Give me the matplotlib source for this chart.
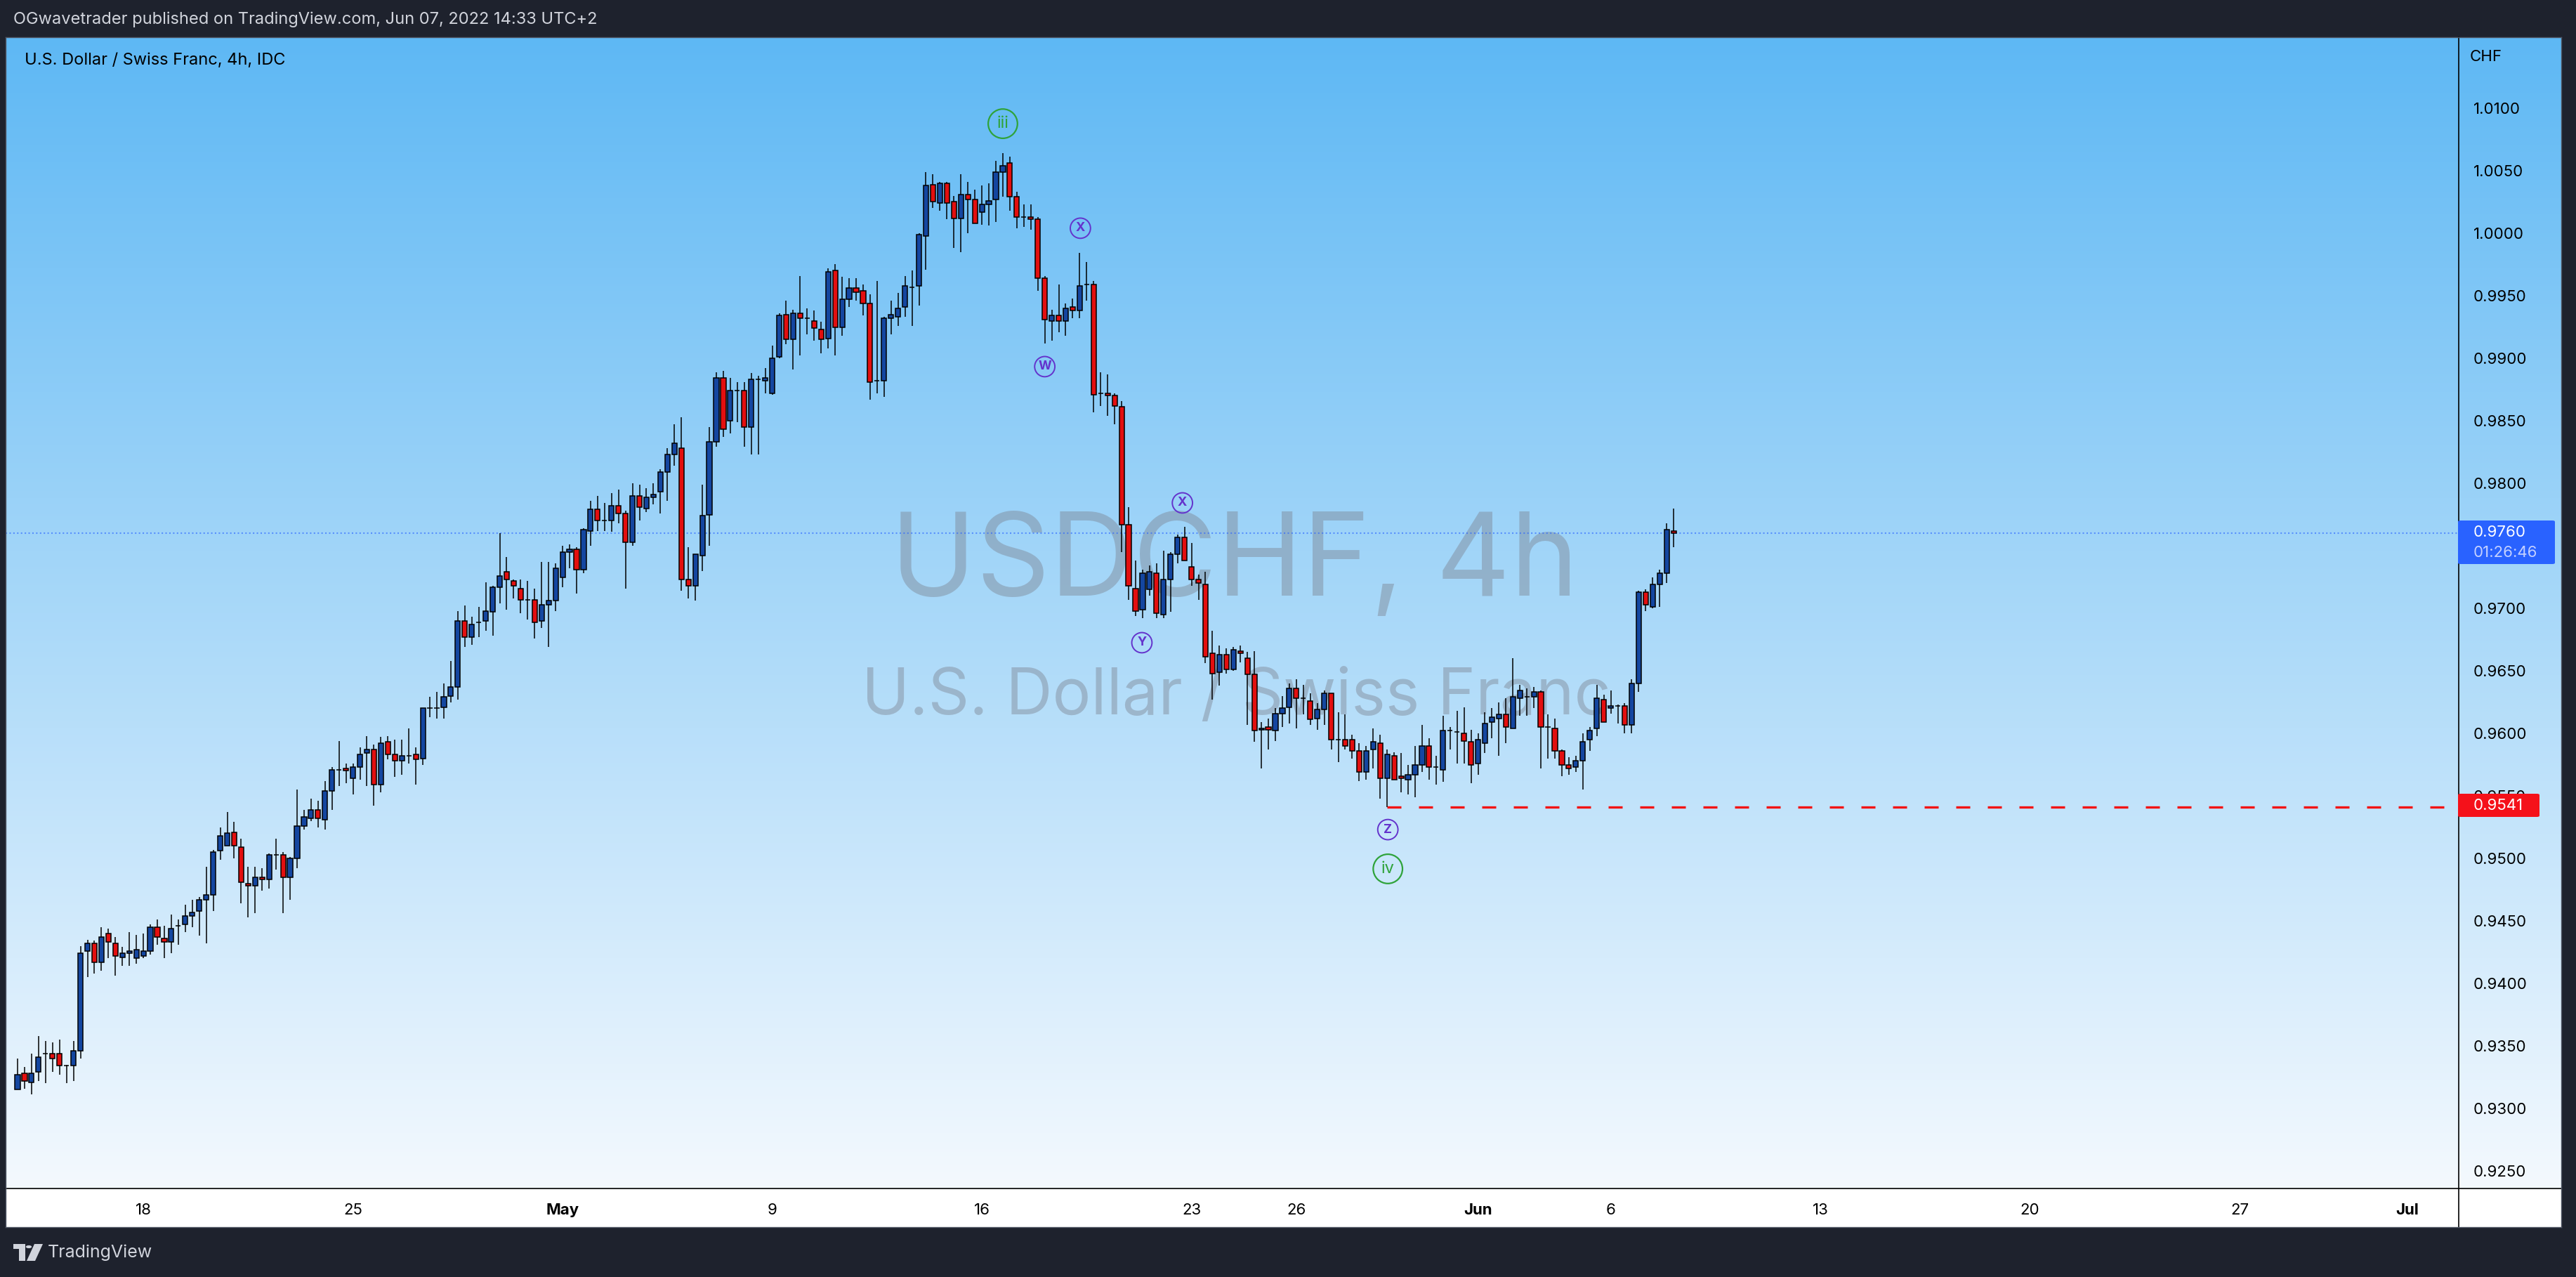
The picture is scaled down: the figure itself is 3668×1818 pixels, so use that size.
import numpy as np
import matplotlib
matplotlib.use('Agg')
import matplotlib.pyplot as plt
from matplotlib.patches import Rectangle, FancyBboxPatch, Polygon, Circle
from matplotlib.lines import Line2D
from matplotlib.ticker import FuncFormatter

# USDCHF 4h candles, 13 Apr -> 7 Jun 2022 (one entry per bar)
opens = [
    0.9315, 0.9328, 0.9321, 0.9329, 0.9344, 0.9344, 0.9344, 0.9334, 0.9334, 0.9346,
    0.9426, 0.9432, 0.9417, 0.9440, 0.9432, 0.9421, 0.9424, 0.9420, 0.9422, 0.9426,
    0.9445, 0.9436, 0.9433, 0.9446, 0.9447, 0.9454, 0.9458, 0.9467, 0.9471, 0.9506,
    0.9510, 0.9521, 0.9509, 0.9480, 0.9478, 0.9485, 0.9483, 0.9503, 0.9503, 0.9485,
    0.9500, 0.9526, 0.9532, 0.9539, 0.9531, 0.9554, 0.9571, 0.9572, 0.9564, 0.9573,
    0.9584, 0.9587, 0.9559, 0.9593, 0.9583, 0.9578, 0.9582, 0.9583, 0.9580, 0.9620,
    0.9620, 0.9621, 0.9630, 0.9637, 0.9690, 0.9677, 0.9689, 0.9690, 0.9697, 0.9717,
    0.9729, 0.9722, 0.9716, 0.9707, 0.9707, 0.9690, 0.9703, 0.9706, 0.9725, 0.9745,
    0.9747, 0.9731, 0.9762, 0.9779, 0.9770, 0.9770, 0.9782, 0.9776, 0.9753, 0.9790,
    0.9780, 0.9789, 0.9793, 0.9809, 0.9823, 0.9828, 0.9723, 0.9718, 0.9742, 0.9775,
    0.9833, 0.9884, 0.9850, 0.9874, 0.9874, 0.9845, 0.9883, 0.9882, 0.9872, 0.9901,
    0.9935, 0.9915, 0.9936, 0.9932, 0.9930, 0.9923, 0.9916, 0.9970, 0.9925, 0.9947,
    0.9956, 0.9954, 0.9944, 0.9882, 0.9882, 0.9932, 0.9933, 0.9941, 0.9957, 0.9958,
    0.9998, 1.0039, 1.0024, 1.0040, 1.0025, 1.0012, 1.0031, 1.0027, 1.0017, 1.0023,
    1.0027, 1.0049, 1.0056, 1.0029, 1.0013, 1.0013, 1.0011, 0.9964, 0.9930, 0.9934,
    0.9930, 0.9941, 0.9938, 0.9959, 0.9959, 0.9872, 0.9872, 0.9870, 0.9861, 0.9767,
    0.9716, 0.9699, 0.9715, 0.9728, 0.9695, 0.9723, 0.9743, 0.9757, 0.9733, 0.9723,
    0.9719, 0.9664, 0.9649, 0.9663, 0.9651, 0.9666, 0.9660, 0.9647, 0.9603, 0.9605,
    0.9602, 0.9616, 0.9621, 0.9636, 0.9628, 0.9626, 0.9612, 0.9619, 0.9632, 0.9595,
    0.9595, 0.9595, 0.9586, 0.9569, 0.9587, 0.9592, 0.9564, 0.9582, 0.9566, 0.9563,
    0.9567, 0.9575, 0.9590, 0.9573, 0.9571, 0.9602, 0.9601, 0.9600, 0.9593, 0.9576,
    0.9592, 0.9609, 0.9612, 0.9615, 0.9604, 0.9628, 0.9629, 0.9629, 0.9633, 0.9605,
    0.9604, 0.9586, 0.9575, 0.9573, 0.9578, 0.9595, 0.9604, 0.9627, 0.9620, 0.9622,
    0.9622, 0.9607, 0.9640, 0.9713, 0.9701, 0.9719, 0.9728, 0.9762,
]
highs = [
    0.9340, 0.9333, 0.9344, 0.9358, 0.9354, 0.9353, 0.9355, 0.9335, 0.9354, 0.9430,
    0.9435, 0.9434, 0.9445, 0.9444, 0.9437, 0.9429, 0.9441, 0.9439, 0.9440, 0.9447,
    0.9451, 0.9446, 0.9455, 0.9451, 0.9463, 0.9467, 0.9469, 0.9493, 0.9507, 0.9525,
    0.9537, 0.9529, 0.9516, 0.9493, 0.9493, 0.9492, 0.9504, 0.9516, 0.9505, 0.9501,
    0.9555, 0.9539, 0.9548, 0.9546, 0.9562, 0.9573, 0.9594, 0.9576, 0.9576, 0.9589,
    0.9598, 0.9591, 0.9597, 0.9598, 0.9595, 0.9595, 0.9604, 0.9589, 0.9620, 0.9629,
    0.9633, 0.9640, 0.9658, 0.9698, 0.9702, 0.9693, 0.9701, 0.9721, 0.9718, 0.9760,
    0.9741, 0.9723, 0.9723, 0.9722, 0.9716, 0.9737, 0.9737, 0.9736, 0.9750, 0.9751,
    0.9749, 0.9764, 0.9786, 0.9790, 0.9784, 0.9792, 0.9795, 0.9778, 0.9800, 0.9799,
    0.9796, 0.9800, 0.9811, 0.9828, 0.9847, 0.9853, 0.9749, 0.9743, 0.9799, 0.9845,
    0.9889, 0.9890, 0.9884, 0.9881, 0.9881, 0.9888, 0.9886, 0.9892, 0.9910, 0.9936,
    0.9946, 0.9939, 0.9966, 0.9940, 0.9938, 0.9929, 0.9972, 0.9975, 0.9965, 0.9964,
    0.9964, 0.9959, 0.9951, 0.9962, 0.9933, 0.9946, 0.9952, 0.9966, 0.9970, 1.0000,
    1.0049, 1.0047, 1.0041, 1.0041, 1.0030, 1.0047, 1.0041, 1.0035, 1.0038, 1.0040,
    1.0058, 1.0064, 1.0061, 1.0033, 1.0023, 1.0023, 1.0013, 0.9966, 0.9939, 0.9959,
    0.9944, 0.9948, 0.9984, 0.9977, 0.9962, 0.9889, 0.9887, 0.9872, 0.9866, 0.9781,
    0.9738, 0.9731, 0.9734, 0.9736, 0.9746, 0.9745, 0.9759, 0.9765, 0.9752, 0.9727,
    0.9729, 0.9682, 0.9670, 0.9668, 0.9669, 0.9670, 0.9665, 0.9666, 0.9609, 0.9612,
    0.9620, 0.9630, 0.9640, 0.9643, 0.9639, 0.9632, 0.9624, 0.9634, 0.9632, 0.9617,
    0.9615, 0.9599, 0.9592, 0.9590, 0.9604, 0.9599, 0.9587, 0.9585, 0.9584, 0.9575,
    0.9590, 0.9607, 0.9596, 0.9582, 0.9614, 0.9605, 0.9618, 0.9621, 0.9603, 0.9600,
    0.9617, 0.9620, 0.9625, 0.9628, 0.9660, 0.9639, 0.9636, 0.9637, 0.9634, 0.9615,
    0.9612, 0.9587, 0.9581, 0.9582, 0.9600, 0.9605, 0.9639, 0.9631, 0.9634, 0.9623,
    0.9624, 0.9643, 0.9714, 0.9715, 0.9725, 0.9731, 0.9768, 0.9780,
]
lows = [
    0.9315, 0.9316, 0.9311, 0.9322, 0.9320, 0.9329, 0.9327, 0.9320, 0.9322, 0.9340,
    0.9405, 0.9408, 0.9410, 0.9420, 0.9406, 0.9414, 0.9414, 0.9416, 0.9420, 0.9423,
    0.9431, 0.9420, 0.9424, 0.9431, 0.9441, 0.9445, 0.9438, 0.9432, 0.9458, 0.9499,
    0.9510, 0.9500, 0.9464, 0.9453, 0.9456, 0.9474, 0.9476, 0.9491, 0.9456, 0.9467,
    0.9492, 0.9523, 0.9530, 0.9525, 0.9523, 0.9539, 0.9558, 0.9560, 0.9551, 0.9563,
    0.9558, 0.9542, 0.9553, 0.9579, 0.9565, 0.9567, 0.9576, 0.9559, 0.9575, 0.9613,
    0.9612, 0.9612, 0.9625, 0.9627, 0.9669, 0.9671, 0.9677, 0.9682, 0.9678, 0.9704,
    0.9699, 0.9708, 0.9696, 0.9691, 0.9676, 0.9684, 0.9669, 0.9698, 0.9717, 0.9732,
    0.9712, 0.9728, 0.9750, 0.9762, 0.9762, 0.9761, 0.9768, 0.9716, 0.9750, 0.9770,
    0.9777, 0.9783, 0.9776, 0.9786, 0.9814, 0.9714, 0.9708, 0.9706, 0.9730, 0.9750,
    0.9829, 0.9837, 0.9840, 0.9849, 0.9829, 0.9823, 0.9823, 0.9872, 0.9871, 0.9900,
    0.9911, 0.9891, 0.9902, 0.9919, 0.9914, 0.9904, 0.9908, 0.9902, 0.9918, 0.9941,
    0.9946, 0.9934, 0.9867, 0.9872, 0.9869, 0.9919, 0.9926, 0.9933, 0.9926, 0.9942,
    0.9971, 1.0020, 1.0018, 1.0011, 0.9988, 0.9985, 1.0000, 1.0008, 1.0007, 1.0006,
    1.0009, 1.0029, 1.0018, 1.0004, 1.0005, 1.0003, 0.9954, 0.9912, 0.9914, 0.9921,
    0.9918, 0.9932, 0.9932, 0.9946, 0.9857, 0.9862, 0.9854, 0.9847, 0.9745, 0.9707,
    0.9694, 0.9692, 0.9710, 0.9692, 0.9692, 0.9697, 0.9736, 0.9738, 0.9718, 0.9707,
    0.9656, 0.9627, 0.9638, 0.9648, 0.9650, 0.9657, 0.9607, 0.9593, 0.9572, 0.9587,
    0.9594, 0.9605, 0.9608, 0.9604, 0.9615, 0.9607, 0.9603, 0.9607, 0.9587, 0.9577,
    0.9587, 0.9580, 0.9562, 0.9563, 0.9572, 0.9548, 0.9541, 0.9563, 0.9553, 0.9551,
    0.9549, 0.9569, 0.9563, 0.9559, 0.9561, 0.9587, 0.9576, 0.9576, 0.9560, 0.9567,
    0.9584, 0.9596, 0.9582, 0.9592, 0.9604, 0.9614, 0.9614, 0.9620, 0.9572, 0.9580,
    0.9580, 0.9566, 0.9567, 0.9569, 0.9555, 0.9586, 0.9598, 0.9609, 0.9616, 0.9608,
    0.9600, 0.9600, 0.9633, 0.9698, 0.9700, 0.9701, 0.9720, 0.9749,
]
closes = [
    0.9327, 0.9322, 0.9328, 0.9341, 0.9344, 0.9340, 0.9334, 0.9334, 0.9346, 0.9424,
    0.9432, 0.9417, 0.9437, 0.9433, 0.9422, 0.9424, 0.9426, 0.9427, 0.9426, 0.9445,
    0.9437, 0.9433, 0.9444, 0.9446, 0.9454, 0.9457, 0.9467, 0.9471, 0.9505, 0.9518,
    0.9520, 0.9510, 0.9481, 0.9478, 0.9485, 0.9483, 0.9503, 0.9503, 0.9485, 0.9500,
    0.9526, 0.9533, 0.9539, 0.9532, 0.9554, 0.9571, 0.9571, 0.9570, 0.9573, 0.9583,
    0.9587, 0.9559, 0.9592, 0.9583, 0.9578, 0.9582, 0.9582, 0.9579, 0.9620, 0.9620,
    0.9620, 0.9629, 0.9637, 0.9690, 0.9677, 0.9687, 0.9689, 0.9698, 0.9717, 0.9726,
    0.9723, 0.9718, 0.9707, 0.9707, 0.9689, 0.9703, 0.9706, 0.9732, 0.9745, 0.9747,
    0.9731, 0.9763, 0.9779, 0.9770, 0.9770, 0.9782, 0.9776, 0.9753, 0.9790, 0.9781,
    0.9789, 0.9791, 0.9809, 0.9823, 0.9832, 0.9723, 0.9718, 0.9743, 0.9774, 0.9833,
    0.9884, 0.9843, 0.9874, 0.9874, 0.9845, 0.9883, 0.9883, 0.9884, 0.9900, 0.9934,
    0.9915, 0.9936, 0.9932, 0.9932, 0.9924, 0.9915, 0.9969, 0.9925, 0.9947, 0.9956,
    0.9953, 0.9944, 0.9881, 0.9882, 0.9932, 0.9935, 0.9940, 0.9958, 0.9957, 0.9999,
    1.0038, 1.0025, 1.0040, 1.0024, 1.0012, 1.0031, 1.0027, 1.0008, 1.0023, 1.0026,
    1.0049, 1.0054, 1.0029, 1.0013, 1.0013, 1.0011, 0.9964, 0.9931, 0.9934, 0.9930,
    0.9940, 0.9938, 0.9958, 0.9959, 0.9871, 0.9872, 0.9870, 0.9862, 0.9767, 0.9718,
    0.9698, 0.9728, 0.9729, 0.9696, 0.9723, 0.9743, 0.9757, 0.9738, 0.9723, 0.9720,
    0.9661, 0.9648, 0.9663, 0.9651, 0.9667, 0.9664, 0.9647, 0.9602, 0.9604, 0.9603,
    0.9616, 0.9620, 0.9636, 0.9628, 0.9628, 0.9611, 0.9619, 0.9632, 0.9595, 0.9595,
    0.9590, 0.9586, 0.9569, 0.9586, 0.9593, 0.9564, 0.9583, 0.9563, 0.9564, 0.9567,
    0.9575, 0.9590, 0.9573, 0.9573, 0.9602, 0.9602, 0.9601, 0.9594, 0.9575, 0.9595,
    0.9608, 0.9613, 0.9615, 0.9605, 0.9629, 0.9634, 0.9629, 0.9633, 0.9605, 0.9605,
    0.9586, 0.9575, 0.9572, 0.9578, 0.9593, 0.9602, 0.9628, 0.9609, 0.9622, 0.9622,
    0.9607, 0.9640, 0.9713, 0.9703, 0.9719, 0.9728, 0.9763, 0.9760,
]

# time axis labels (bar index of each day mark)
tick_bars = [18, 48, 78, 108, 138, 168, 183, 209, 228, 258, 288, 318, 342]
tick_labels = ['18', '25', 'May', '9', '16', '23', '26', 'Jun', '6', '13', '20', '27', 'Jul']
month_labels = ['May', 'Jun', 'Jul']

price_ticks = np.round(np.arange(0.925, 1.0101, 0.005), 4)
hidden_tick = 0.9750   # sits under the last-price tag
last_price = 0.9760
low_line = 0.9541
low_line_start = 196

# elliott wave labels
wave_x = [141.0, 147.0, 152.1, 160.9, 166.7, 196.1, 196.1]
wave_y = [1.00876, 0.98933, 1.0004, 0.96725, 0.97843, 0.9523, 0.94916]
wave_txt = ['iii', 'W', 'X', 'Y', 'X', 'Z', 'iv']
wave_major = [True, False, False, False, False, False, True]

W, H = 3668, 1818
FONT = ['Inter', 'DejaVu Sans']
plt.rcParams['font.family'] = FONT

def fx(px):
    return px / W

def fy(py):
    return 1 - py / H

fig = plt.figure(figsize=(W / 100, H / 100), dpi=100)
fig.patch.set_facecolor('#1e222d')

# gradient behind chart and price scale
bg = fig.add_axes([fx(8), fy(1692), fx(3647 - 8), (1692 - 53) / H], zorder=-2)
top = np.array([0x5e, 0xb8, 0xf4]) / 255
bot = np.array([0xf4, 0xf9, 0xfe]) / 255
t = np.linspace(0, 1, 500)[:, None]
grad = top * (1 - t) + bot * t
bg.imshow(grad[:, None, :], aspect='auto', extent=[0, 1, 0, 1])
bg.axis('off')

fig.patches.append(Rectangle((fx(8), fy(1747)), fx(3647 - 8), 55 / H, transform=fig.transFigure,
                             facecolor='white', edgecolor='none', zorder=-1))

ax = fig.add_axes([fx(8), fy(1692), fx(3501 - 8), (1692 - 53) / H])
ax.set_facecolor('none')
ax.set_xlim(-1.709, 349.35)
ax.set_ylim(0.923596, 1.015674)
for s in ax.spines.values():
    s.set_visible(False)

o = np.array(opens)
h = np.array(highs)
l = np.array(lows)
c = np.array(closes)
x = np.arange(len(c))
body_col = np.where(c >= o, '#1446a0', '#e30f0f')
ax.vlines(x, l, h, color='black', lw=1.1, zorder=3)
ax.bar(x, np.abs(c - o), bottom=np.minimum(o, c), width=0.72, color=body_col,
       edgecolor='black', linewidth=1.1, zorder=4)

# watermark
ax.text(fx(1758), fy(848), 'USDCHF, 4h', transform=fig.transFigure, ha='center', va='baseline',
        fontsize=118, color='#7a7f8c', alpha=0.42, zorder=1)
ax.text(fx(1760), fy(1017), 'U.S. Dollar / Swiss Franc', transform=fig.transFigure, ha='center',
        va='baseline', fontsize=66, color='#7a7f8c', alpha=0.42, zorder=1)

ax.axhline(last_price, color='#2962ff', alpha=0.6, lw=1.5, linestyle=(0, (1, 1.6)), zorder=2)
ax.hlines(low_line, low_line_start, 349.35, colors='#f21414', lw=2.4, linestyles=(0, (6, 7.5)), zorder=2)

for wx, wy, wt, big in zip(wave_x, wave_y, wave_txt, wave_major):
    col = '#2fa33a' if big else '#6433cc'
    ax.scatter([wx], [wy], s=900 if big else 430, facecolors='none', edgecolors=col,
               linewidths=1.6 if big else 1.4, zorder=5)
    ax.text(wx, wy, wt, ha='center', va='center', color=col, fontsize=17 if big else 13,
            fontweight='normal' if big else 'bold', zorder=6)

ax.yaxis.tick_right()
ax.set_yticks(price_ticks)
ax.yaxis.set_major_formatter(FuncFormatter(lambda v, p: '' if abs(v - hidden_tick) < 1e-6 else '%.4f' % v))
ax.tick_params(axis='y', length=0, pad=15, labelsize=16, labelcolor='black')
ax.set_xticks(tick_bars)
ax.set_xticklabels(tick_labels)
ax.tick_params(axis='x', length=0, pad=15, labelsize=16, labelcolor='black')
for lab in ax.get_xticklabels():
    if lab.get_text() in month_labels:
        lab.set_fontweight('bold')

# scale separators and frame
fig.add_artist(Line2D([fx(3501), fx(3501)], [fy(53), fy(1747)], color='black', lw=1.2))
fig.add_artist(Line2D([fx(8), fx(3647)], [fy(1692), fy(1692)], color='black', lw=1.2))
for xs, ys in [([8, 8], [53, 1747]), ([3647, 3647], [53, 1747]), ([8, 3647], [53, 53]), ([8, 3647], [1747, 1747])]:
    fig.add_artist(Line2D([fx(v) for v in xs], [fy(v) for v in ys], color='#4e5563', lw=1.0))

fig.text(fx(3517), fy(81), 'CHF', ha='left', va='center', fontsize=16, color='black')

# last price and low labels
fig.patches.append(FancyBboxPatch((fx(3500), fy(803)), fx(138), 62 / H, transform=fig.transFigure,
                                  boxstyle='round,pad=0,rounding_size=0.001', facecolor='#2962ff',
                                  edgecolor='none', zorder=5))
fig.text(fx(3522), fy(758), '0.9760', ha='left', va='center', fontsize=16, color='white', zorder=6)
fig.text(fx(3522), fy(787), '01:26:46', ha='left', va='center', fontsize=16, color='#c3d0ff', zorder=6)
fig.patches.append(FancyBboxPatch((fx(3500), fy(1163)), fx(116), 33 / H, transform=fig.transFigure,
                                  boxstyle='round,pad=0,rounding_size=0.001', facecolor='#f5111a',
                                  edgecolor='none', zorder=5))
fig.text(fx(3522), fy(1147), '0.9541', ha='left', va='center', fontsize=16, color='white', zorder=6)

# header / legend
fig.text(fx(19), fy(28), 'OGwavetrader published on TradingView.com, Jun 07, 2022 14:33 UTC+2',
         ha='left', va='center', fontsize=17, color='#d1d4dc')
fig.text(fx(35), fy(86), 'U.S. Dollar / Swiss Franc, 4h, IDC', ha='left', va='center',
         fontsize=17, color='black')

# footer logo
logo = '#d1d4dc'
fig.patches.append(Rectangle((fx(19), fy(1778)), fx(17), 7 / H, transform=fig.transFigure, facecolor=logo, zorder=5))
fig.patches.append(Rectangle((fx(27), fy(1795)), fx(9), 24 / H, transform=fig.transFigure, facecolor=logo, zorder=5))
fig.patches.append(Circle((fx(41), fy(1775)), 4.2 / W, transform=fig.transFigure, facecolor=logo, zorder=5))
fig.patches.append(Polygon([(fx(49), fy(1771)), (fx(61), fy(1771)), (fx(50), fy(1795)), (fx(38), fy(1795))],
                           closed=True, transform=fig.transFigure, facecolor=logo, zorder=5))
fig.text(fx(68), fy(1783), 'TradingView', ha='left', va='center', fontsize=18, color=logo)

fig.savefig('out.png', dpi=100, facecolor=fig.get_facecolor())
